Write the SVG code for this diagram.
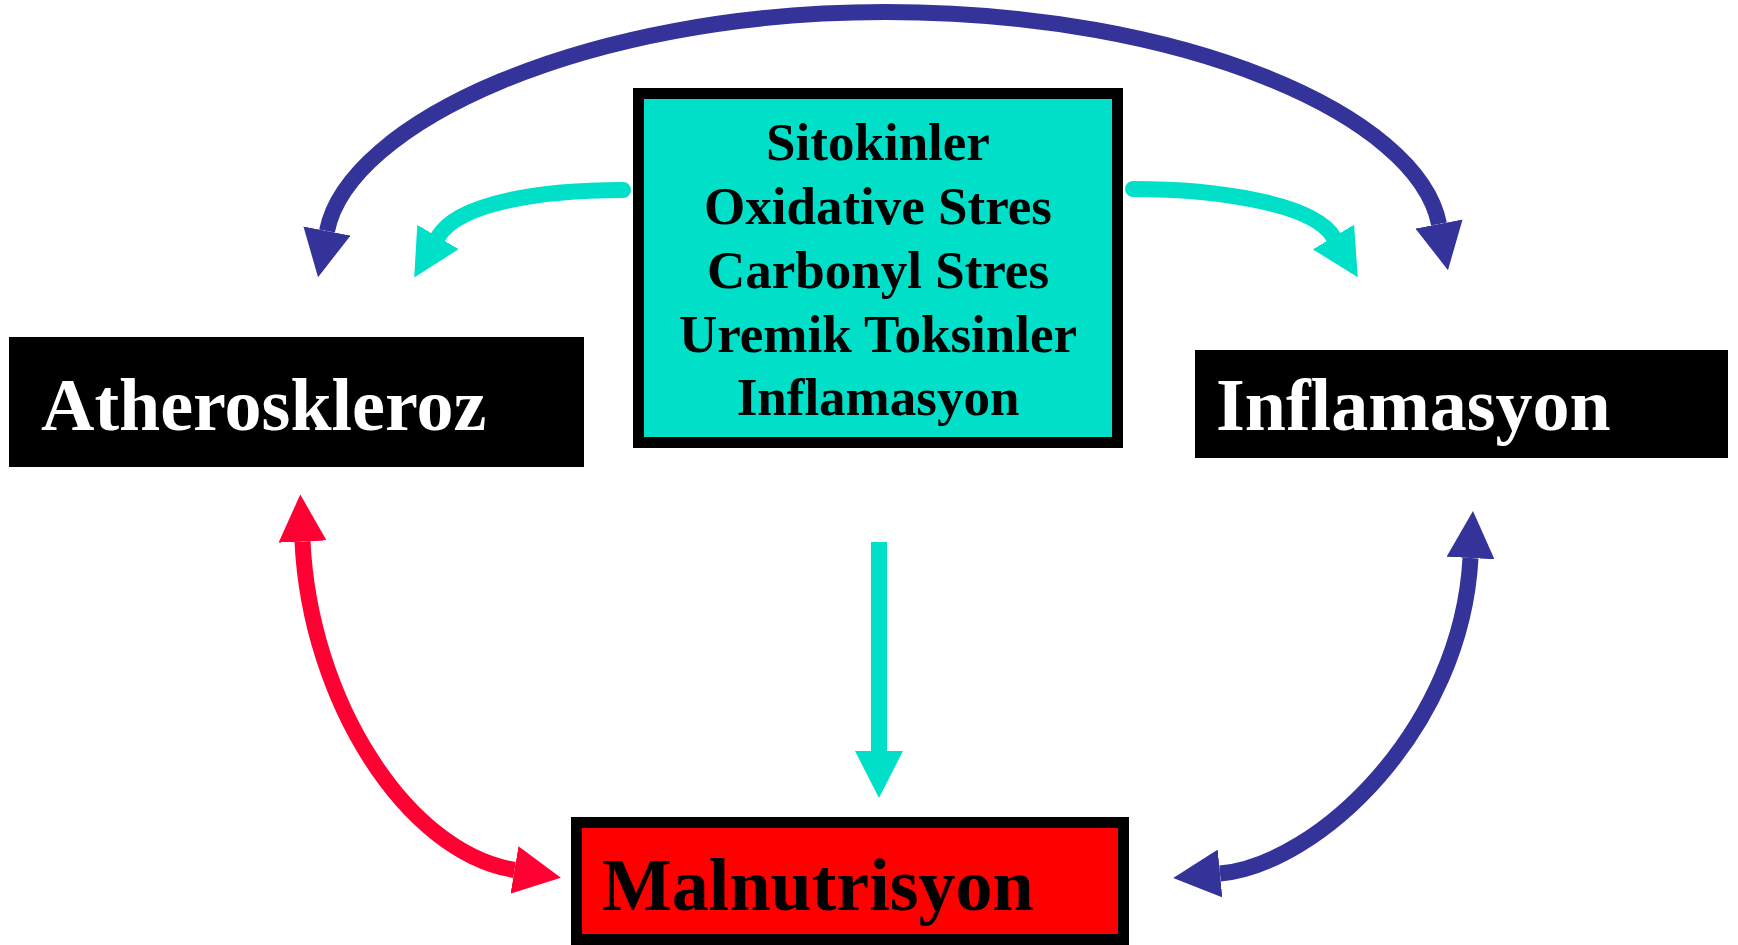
<svg xmlns="http://www.w3.org/2000/svg" width="1738" height="945" viewBox="0 0 1738 945">
<style>
.lbl{font-family:"Liberation Serif","Times New Roman",serif;font-weight:bold;}
.big{font-size:74px;}
.mid{font-size:53px;text-anchor:middle;fill:#000;}
.conn{fill:none;stroke-width:16;}
.blue{stroke:#333399;}
.red{stroke:#FF0033;}
.cyan{stroke:#00DFC8;}
</style>
<defs>
<marker id="ahBlue" markerUnits="userSpaceOnUse" markerWidth="48" markerHeight="48" viewBox="0 0 48 48" refX="0" refY="24" orient="auto-start-reverse"><path d="M0,0 L47,24 L0,48 Z" fill="#333399"/></marker>
<marker id="ahRed" markerUnits="userSpaceOnUse" markerWidth="48" markerHeight="48" viewBox="0 0 48 48" refX="0" refY="24" orient="auto-start-reverse"><path d="M0,0 L47,24 L0,48 Z" fill="#FF0033"/></marker>
<marker id="ahCyan" markerUnits="userSpaceOnUse" markerWidth="48" markerHeight="48" viewBox="0 0 48 48" refX="0" refY="24" orient="auto-start-reverse"><path d="M0,0 L47,24 L0,48 Z" fill="#00DFC8"/></marker>
</defs>
<rect width="1738" height="945" fill="#fff"/>
<g id="connectors">
<path class="conn blue" d="M327,231 C348,123 585,12 885,12 C1185,12 1418,116 1439,224" marker-start="url(#ahBlue)" marker-end="url(#ahBlue)"/>
<path class="conn cyan" stroke-linecap="round" d="M623,190 C540,190 458,203 438,237" marker-end="url(#ahCyan)"/>
<path class="conn cyan" stroke-linecap="round" d="M1133,189 C1215,189 1313,203 1333.5,237" marker-end="url(#ahCyan)"/>
<path class="conn cyan" d="M879,542 L879,751" marker-end="url(#ahCyan)"/>
<path class="conn red" d="M302.5,541.5 C310,700 406,852 514.5,870" marker-start="url(#ahRed)" marker-end="url(#ahRed)"/>
<path class="conn blue" d="M1470.5,558 C1461.5,728 1319.6,864 1220,873.5" marker-start="url(#ahBlue)" marker-end="url(#ahBlue)"/>
</g>
<g id="node-factors">
<rect x="638.5" y="93.5" width="479" height="349" fill="#00DFC8" stroke="#000" stroke-width="11"/>
<text class="lbl mid" x="878" y="160">Sitokinler</text>
<text class="lbl mid" x="878" y="224">Oxidative Stres</text>
<text class="lbl mid" x="878" y="288">Carbonyl Stres</text>
<text class="lbl mid" x="878" y="352">Uremik Toksinler</text>
<text class="lbl mid" x="878" y="415">Inflamasyon</text>
</g>
<g id="node-atheroskleroz">
<rect x="9" y="337" width="575" height="130" fill="#000"/>
<text class="lbl big" x="41" y="430" fill="#fff">Atheroskleroz</text>
</g>
<g id="node-inflamasyon">
<rect x="1195" y="350" width="533" height="108" fill="#000"/>
<text class="lbl big" x="1216" y="430" fill="#fff">Inflamasyon</text>
</g>
<g id="node-malnutrisyon">
<rect x="576.5" y="822.5" width="547" height="117" fill="#FF0000" stroke="#000" stroke-width="11"/>
<text class="lbl big" x="602" y="910" fill="#000">Malnutrisyon</text>
</g>
</svg>
